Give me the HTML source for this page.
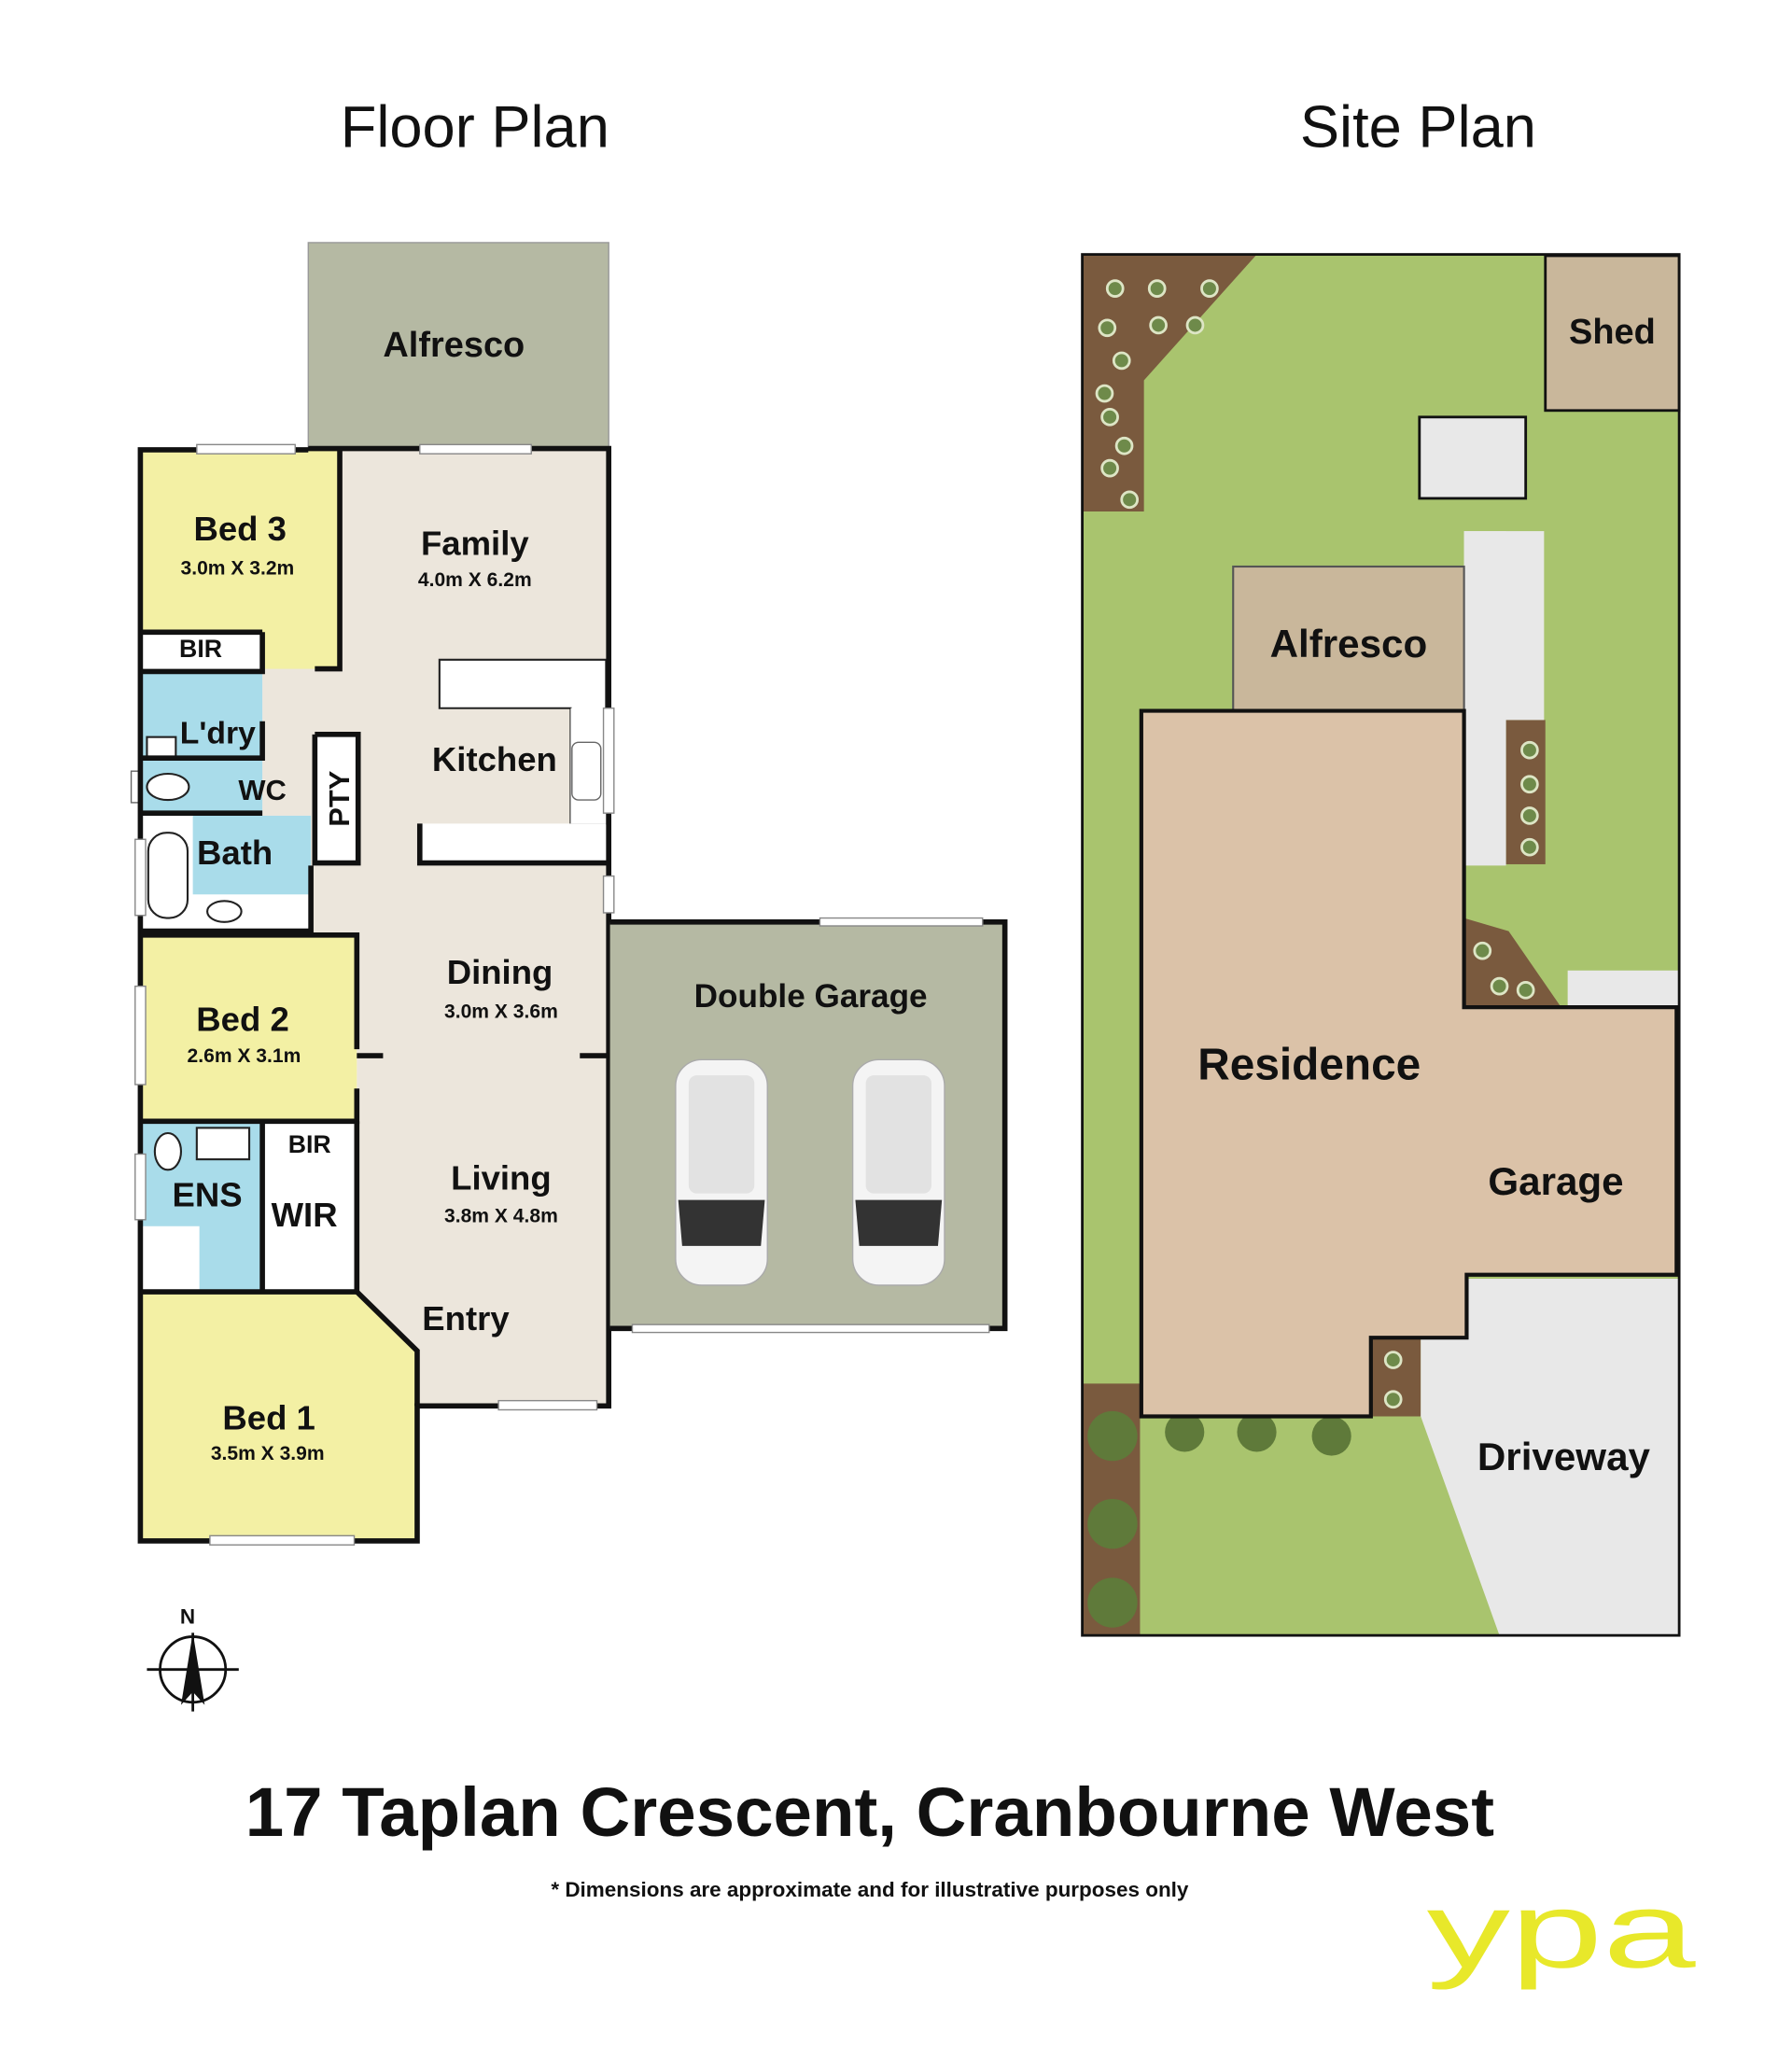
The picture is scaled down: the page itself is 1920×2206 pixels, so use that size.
<!DOCTYPE html>
<html><head><meta charset="utf-8"><style>
html,body{margin:0;padding:0;background:#fff;}
svg{display:block;}
text{font-family:"Liberation Sans",sans-serif;font-weight:bold;fill:#111;text-anchor:middle;}
</style></head><body>
<svg width="1920" height="2206" viewBox="0 0 1366 1570" preserveAspectRatio="none" xmlns="http://www.w3.org/2000/svg">
<rect width="1366" height="1570" fill="#fff"/>
<text x="362" y="112" font-size="45" style="font-weight:normal">Floor Plan</text>
<text x="1081" y="112" font-size="45" style="font-weight:normal">Site Plan</text>

<rect x="235" y="185" width="229" height="157" fill="#b5b9a3" stroke="#999" stroke-width="1"/>
<text x="346" y="272" font-size="27">Alfresco</text>
<polygon points="200,342 464,342 464,1072 318,1072 318,1030 272,985 272,855 272,713 237,713 237,660 200,660" fill="#ece6dc"/>
<rect x="107" y="343" width="152" height="167" fill="#f3f0a4"/>
<rect x="107" y="482" width="93" height="28" fill="#fff"/>
<rect x="107" y="512" width="93" height="108" fill="#a9dcea"/>
<rect x="107" y="622" width="130" height="88" fill="#fff"/>
<rect x="147" y="622" width="90" height="60" fill="#a9dcea"/>
<rect x="107" y="713" width="165" height="142" fill="#f3f0a4"/>
<rect x="107" y="855" width="93" height="130" fill="#a9dcea"/>
<rect x="107" y="935" width="45" height="50" fill="#fff"/>
<rect x="200" y="855" width="72" height="130" fill="#fff"/>
<polygon points="107,985 272,985 318,1030 318,1175 107,1175" fill="#f3f0a4"/>
<rect x="240" y="560" width="33" height="98" fill="#fff"/>
<polygon points="335,503 462,503 462,628 435,628 435,540 335,540" fill="#fff" stroke="#222" stroke-width="1.5"/>
<rect x="320" y="628" width="142" height="30" fill="#fff"/>
<rect x="435" y="540" width="27" height="88" fill="#fff"/>
<rect x="436" y="566" width="22" height="44" rx="5" fill="#fff" stroke="#666" stroke-width="1"/>
<rect x="100" y="588" width="8" height="24" fill="#fff" stroke="#666"/>
<ellipse cx="128" cy="600" rx="16" ry="10" fill="#fff" stroke="#222" stroke-width="1.5"/>
<rect x="113" y="635" width="30" height="65" rx="14" fill="#fff" stroke="#222" stroke-width="1.5"/>
<ellipse cx="171" cy="695" rx="13" ry="8" fill="#fff" stroke="#222" stroke-width="1.5"/>
<rect x="112" y="562" width="22" height="16" fill="#fff" stroke="#222" stroke-width="1.5"/>
<rect x="150" y="860" width="40" height="24" fill="#fff" stroke="#222" stroke-width="1.5"/>
<ellipse cx="128" cy="878" rx="10" ry="14" fill="#fff" stroke="#222" stroke-width="1.5"/>
<g fill="none" stroke="#111" stroke-width="4">
<polyline points="235,343 107,343 107,1175 318,1175 318,1072 464,1072 464,342 235,342"/>
<polyline points="259,343 259,510 240,510"/>
<polyline points="200,482 107,482"/>
<polyline points="200,482 200,512 107,512"/>
<polyline points="200,550 200,578 107,578"/>
<polyline points="200,620 107,620"/>
<polyline points="107,710 237,710 237,660"/>
<polyline points="107,713 272,713 272,800"/>
<polyline points="272,830 272,855 107,855"/>
<polyline points="200,855 200,985"/>
<polyline points="272,855 272,985 107,985"/>
<polyline points="272,985 318,1030 318,1072"/>
<polyline points="240,560 273,560 273,658 240,658 240,560"/>
<polyline points="320,628 320,658 464,658"/>
<polyline points="272,805 292,805"/>
<polyline points="442,805 464,805"/>
</g>
<g fill="#fff" stroke="#888" stroke-width="1">
<rect x="150" y="339" width="75" height="7"/><rect x="320" y="339" width="85" height="7"/>
<rect x="460" y="540" width="8" height="80"/><rect x="460" y="668" width="8" height="28"/>
<rect x="103" y="640" width="8" height="58"/><rect x="103" y="752" width="8" height="75"/>
<rect x="103" y="880" width="8" height="50"/><rect x="160" y="1171" width="110" height="7"/>
<rect x="380" y="1068" width="75" height="7"/>
</g>
<g font-size="26"><text x="183" y="412">Bed 3</text><text x="362" y="423">Family</text><text x="377" y="588">Kitchen</text>
<text x="381" y="750">Dining</text><text x="185" y="786">Bed 2</text><text x="382" y="907">Living</text><text x="355" y="1014">Entry</text>
<text x="205" y="1090">Bed 1</text><text x="179" y="659">Bath</text><text x="158" y="920">ENS</text><text x="232" y="935">WIR</text>
<text x="166" y="567" font-size="24">L'dry</text><text x="200" y="610" font-size="22">WC</text>
<text x="153" y="501" font-size="19">BIR</text><text x="236" y="879" font-size="19">BIR</text>
<text x="266" y="609" font-size="22" transform="rotate(-90 266 609)">PTY</text></g>
<g font-size="15"><text x="181" y="438">3.0m X 3.2m</text><text x="362" y="447">4.0m X 6.2m</text><text x="382" y="776">3.0m X 3.6m</text>
<text x="186" y="810">2.6m X 3.1m</text><text x="382" y="932">3.8m X 4.8m</text><text x="204" y="1113">3.5m X 3.9m</text></g>
<rect x="465" y="703" width="301" height="310" fill="#b5b9a3"/>
<polyline points="465,703 766,703 766,1013 465,1013" fill="none" stroke="#111" stroke-width="4"/>
<rect x="625" y="700" width="124" height="6" fill="#fff" stroke="#888"/><rect x="482" y="1010" width="272" height="6" fill="#fff" stroke="#888"/>
<text x="618" y="768" font-size="25">Double Garage</text>
<g><rect x="515" y="808" width="70" height="172" rx="20" fill="#f4f4f4" stroke="#aaa"/><rect x="525" y="820" width="50" height="90" rx="6" fill="#e2e2e2"/><path d="M517,915 L583,915 L580,950 L520,950Z" fill="#333"/></g>
<g><rect x="650" y="808" width="70" height="172" rx="20" fill="#f4f4f4" stroke="#aaa"/><rect x="660" y="820" width="50" height="90" rx="6" fill="#e2e2e2"/><path d="M652,915 L718,915 L715,950 L655,950Z" fill="#333"/></g>
<g stroke="#111" stroke-width="2" fill="none"><circle cx="147" cy="1273" r="25"/><line x1="112" y1="1273" x2="182" y2="1273"/><line x1="147" y1="1245" x2="147" y2="1305"/></g>
<polygon points="147,1245 138,1300 147,1290 156,1300" fill="#111"/>
<text x="143" y="1238" font-size="16">N</text>

<rect x="825" y="194" width="455" height="1053" fill="#a9c46e"/>
<polygon points="825,194 958,194 872,290 872,390 825,390" fill="#7a5a3e"/>
<rect x="825" y="1055" width="44" height="192" fill="#7a5a3e"/>
<rect x="1148" y="549" width="30" height="110" fill="#7a5a3e"/>
<polygon points="1116,700 1150,710 1190,768 1116,768" fill="#7a5a3e"/>
<rect x="1045" y="1020" width="38" height="60" fill="#7a5a3e"/>
<g fill="#6e8a4a" stroke="#dde5c5" stroke-width="2">
<circle cx="850" cy="220" r="6"/><circle cx="882" cy="220" r="6"/><circle cx="922" cy="220" r="6"/><circle cx="844" cy="250" r="6"/><circle cx="883" cy="248" r="6"/><circle cx="911" cy="248" r="6"/><circle cx="855" cy="275" r="6"/><circle cx="842" cy="300" r="6"/><circle cx="846" cy="318" r="6"/><circle cx="857" cy="340" r="6"/><circle cx="846" cy="357" r="6"/><circle cx="861" cy="381" r="6"/>
<circle cx="1166" cy="572" r="6"/><circle cx="1166" cy="598" r="6"/><circle cx="1166" cy="622" r="6"/><circle cx="1166" cy="646" r="6"/>
<circle cx="1130" cy="725" r="6"/><circle cx="1143" cy="752" r="6"/><circle cx="1163" cy="755" r="6"/><circle cx="1062" cy="1037" r="6"/><circle cx="1062" cy="1067" r="6"/></g>
<g fill="#5f7a3a"><circle cx="848" cy="1095" r="19"/><circle cx="848" cy="1162" r="19"/><circle cx="848" cy="1222" r="19"/><circle cx="903" cy="1092" r="15"/><circle cx="958" cy="1092" r="15"/><circle cx="1015" cy="1095" r="15"/></g>
<rect x="1178" y="195" width="102" height="118" fill="#c9b79b" stroke="#111" stroke-width="2"/>
<text x="1229" y="262" font-size="27">Shed</text>
<rect x="1082" y="318" width="81" height="62" fill="#e8e8e8" stroke="#111" stroke-width="2"/>
<rect x="1116" y="405" width="32" height="255" fill="#e8e8e8"/>
<rect x="1116" y="405" width="61" height="144" fill="#e8e8e8"/>
<rect x="1195" y="740" width="85" height="28" fill="#e8e8e8"/>
<polygon points="1118,975 1280,975 1280,1247 1143,1247 1083,1080 1083,1020 1118,1020" fill="#e8e8e8"/>
<rect x="940" y="432" width="176" height="110" fill="#c9b79b" stroke="#555" stroke-width="1.5"/>
<text x="1028" y="501" font-size="30">Alfresco</text>
<polygon points="870,542 1116,542 1116,768 1278,768 1278,972 1118,972 1118,1020 1045,1020 1045,1080 870,1080" fill="#dbc2a8" stroke="#111" stroke-width="3"/>
<text x="998" y="823" font-size="34">Residence</text>
<text x="1186" y="911" font-size="30">Garage</text>
<text x="1192" y="1121" font-size="30">Driveway</text>
<rect x="825" y="194" width="455" height="1053" fill="none" stroke="#111" stroke-width="2"/>

<text x="663" y="1400" font-size="53">17 Taplan Crescent, Cranbourne West</text>
<text x="663" y="1446" font-size="16">* Dimensions are approximate and for illustrative purposes only</text>
<text x="0" y="0" font-size="82" style="font-weight:normal;fill:#e8e82a" transform="translate(1190 1500) scale(1.55 1)">ypa</text>
</svg>
</body></html>
